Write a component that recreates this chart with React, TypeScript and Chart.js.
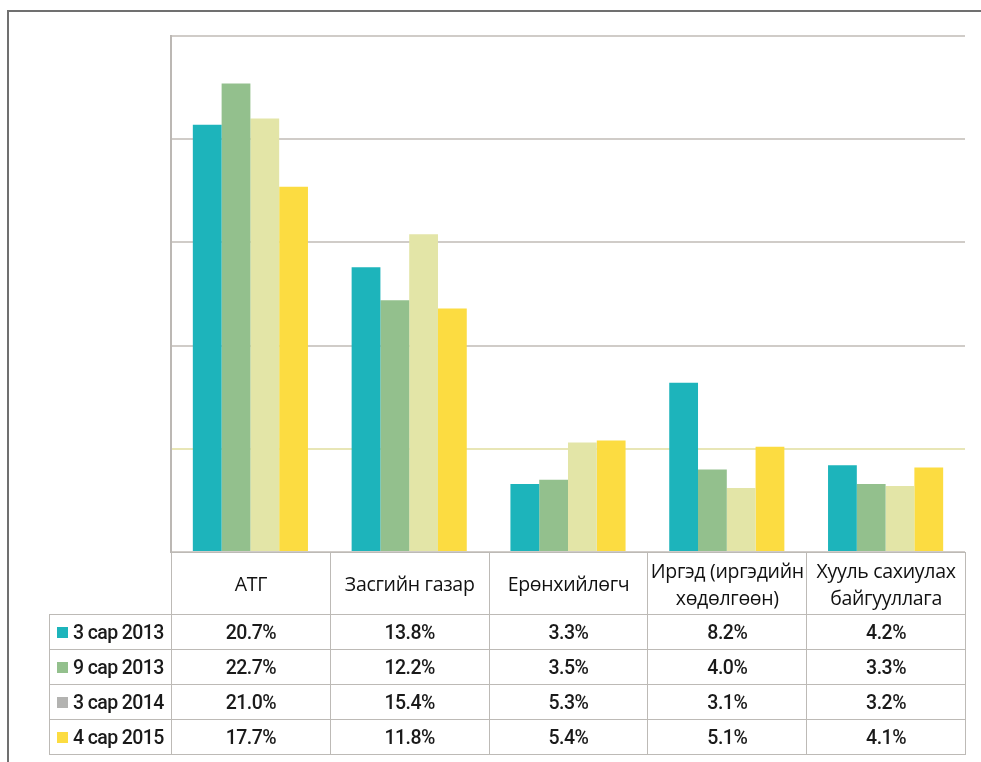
import React, { useEffect, useRef } from "react";
import { Chart, registerables } from "chart.js";

Chart.register(...registerables);

const categories: string[][] = [
  ["АТГ"],
  ["Засгийн газар"],
  ["Ерөнхийлөгч"],
  ["Иргэд (иргэдийн", "хөдөлгөөн)"],
  ["Хууль сахиулах", "байгууллага"],
];

const seriesNames = ["3 сар 2013", "9 сар 2013", "3 сар 2014", "4 сар 2015"];
const mar2013 = [20.7, 13.8, 3.3, 8.2, 4.2];
const sep2013 = [22.7, 12.2, 3.5, 4.0, 3.3];
const mar2014 = [21.0, 15.4, 5.3, 3.1, 3.2];
const apr2015 = [17.7, 11.8, 5.4, 5.1, 4.1];
const seriesValues = [mar2013, sep2013, mar2014, apr2015];

const barColors = ["#1db4bb", "#93c08d", "#e3e5a7", "#fcdc41"];
const legendSwatch = ["#1db4bb", "#93c08d", "#b3b3b1", "#fcdc41"];

const W = 981;
const H = 762;
const PLOT_LEFT = 171;
const PLOT_RIGHT = 965;
const PLOT_TOP = 36;
const PLOT_BOTTOM = 552;
const LEGEND_LEFT = 49;
const HEADER_H = 62;
const ROW_H = 35;
const BORDER = "#bdbab6";

export default function App() {
  const canvasRef = useRef<HTMLCanvasElement | null>(null);

  useEffect(() => {
    if (!canvasRef.current) return;
    const chart = new Chart(canvasRef.current, {
      type: "bar",
      data: {
        labels: categories.map((c) => c.join(" ")),
        datasets: seriesNames.map((name, i) => ({
          label: name,
          data: seriesValues[i],
          backgroundColor: barColors[i],
          borderWidth: 0,
          categoryPercentage: 0.725,
          barPercentage: 1.0,
        })),
      },
      options: {
        responsive: false,
        animation: false,
        layout: {
          padding: {
            left: PLOT_LEFT,
            top: PLOT_TOP,
            right: W - PLOT_RIGHT,
            bottom: H - PLOT_BOTTOM,
          },
        },
        plugins: {
          legend: { display: false },
          tooltip: { enabled: false },
        },
        scales: {
          x: { display: false },
          y: {
            min: 0,
            max: 25,
            ticks: { stepSize: 5, display: false },
            grid: {
              drawTicks: false,
              lineWidth: 2,
              color: (ctx: any) =>
                ctx.tick && ctx.tick.value === 5 ? "#e8e6b6" : "#d0ccc8",
            },
            border: { display: true, color: "#bcb8b4", width: 2 },
          },
        },
      },
    });
    return () => chart.destroy();
  }, []);

  const colW = (PLOT_RIGHT - PLOT_LEFT) / categories.length;

  const cell = (
    key: string,
    left: number,
    top: number,
    width: number,
    height: number,
    content: React.ReactNode,
    style: React.CSSProperties = {}
  ) => (
    <div
      key={key}
      style={{
        position: "absolute",
        left,
        top,
        width: width + 1,
        height: height + 1,
        boxSizing: "border-box",
        border: `1px solid ${BORDER}`,
        display: "flex",
        alignItems: "center",
        justifyContent: "center",
        background: "transparent",
        ...style,
      }}
    >
      {content}
    </div>
  );

  const cells: React.ReactNode[] = [];
  categories.forEach((lines, i) => {
    cells.push(
      cell(
        `h${i}`,
        PLOT_LEFT + i * colW,
        PLOT_BOTTOM,
        colW,
        HEADER_H,
        <div
          style={{
            fontFamily: "'Open Sans', 'Noto Sans', sans-serif",
            fontSize: 19.5,
            fontWeight: 500,
            color: "#111",
            textAlign: "center",
            lineHeight: "27px",
            whiteSpace: "nowrap",
            letterSpacing: -0.3,
          }}
        >
          {lines.map((l, k) => (
            <div key={k}>{l}</div>
          ))}
        </div>
      )
    );
  });

  seriesNames.forEach((name, r) => {
    const top = PLOT_BOTTOM + HEADER_H + r * ROW_H;
    cells.push(
      cell(
        `l${r}`,
        LEGEND_LEFT,
        top,
        PLOT_LEFT - LEGEND_LEFT,
        ROW_H,
        <div
          style={{
            display: "flex",
            alignItems: "center",
            fontFamily: "Roboto, sans-serif",
            fontSize: 19.5,
            fontWeight: 500,
            color: "#1a1a1a",
            letterSpacing: -0.6,
            whiteSpace: "nowrap",
          }}
        >
          <span
            style={{
              display: "inline-block",
              width: 11,
              height: 11,
              background: legendSwatch[r],
              marginRight: 5,
            }}
          />
          {name}
        </div>,
        { justifyContent: "flex-start", paddingLeft: 7 }
      )
    );
    seriesValues[r].forEach((v, c) => {
      cells.push(
        cell(
          `v${r}-${c}`,
          PLOT_LEFT + c * colW,
          top,
          colW,
          ROW_H,
          <span
            style={{
              fontFamily: "Roboto, sans-serif",
              fontSize: 19.5,
              fontWeight: 500,
              color: "#1a1a1a",
              letterSpacing: -0.5,
            }}
          >
            {v.toFixed(1) + "%"}
          </span>
        )
      );
    });
  });

  return (
    <div
      style={{
        position: "fixed",
        left: 0,
        top: 0,
        width: W,
        height: H,
        overflow: "hidden",
        background: "#fff",
      }}
    >
      <div
        style={{
          position: "absolute",
          left: 7,
          top: 10,
          width: W + 20,
          height: H + 20,
          borderLeft: "2px solid #707070",
          borderTop: "2px solid #707070",
        }}
      />
      <canvas
        ref={canvasRef}
        width={W}
        height={H}
        style={{ position: "absolute", left: 0, top: 0, width: W, height: H }}
      />
      {cells}
    </div>
  );
}
